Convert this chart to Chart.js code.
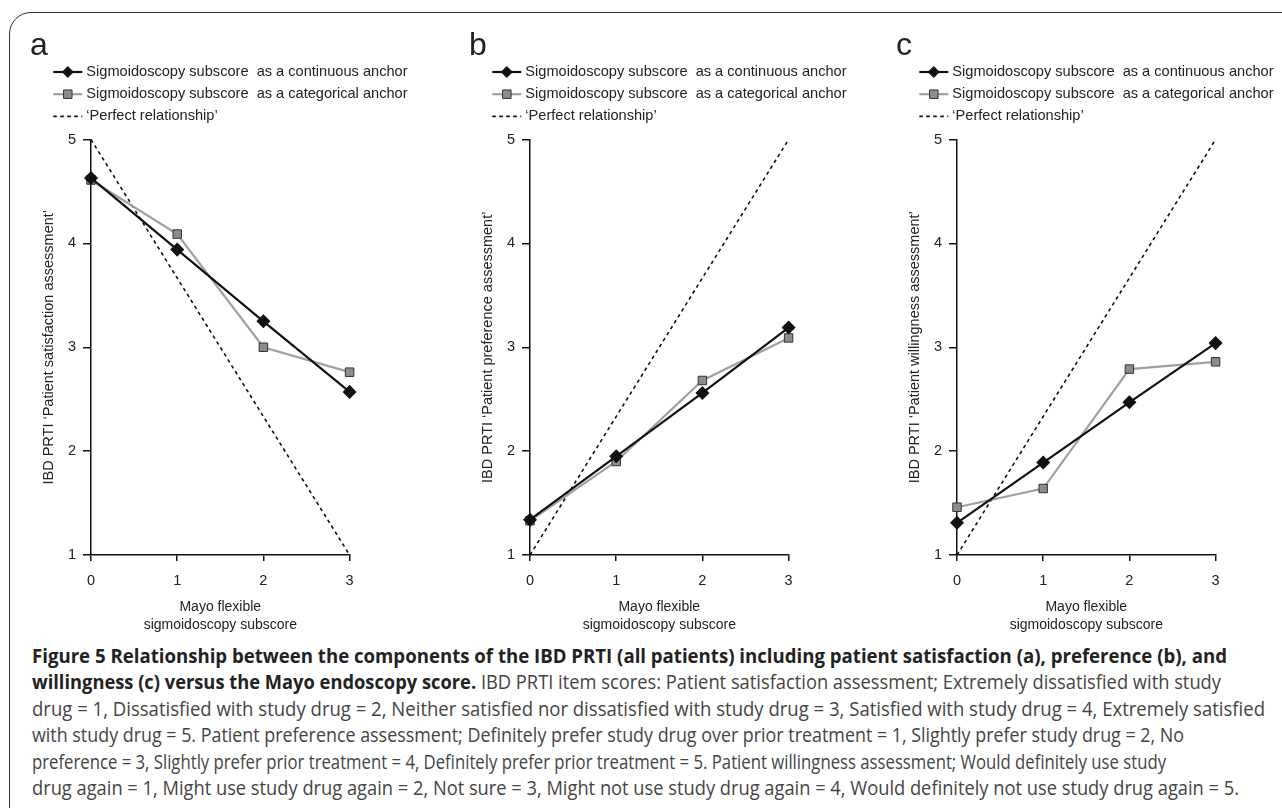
<!DOCTYPE html>
<html>
<head>
<meta charset="utf-8">
<script src="https://cdn.jsdelivr.net/npm/chart.js@4.4.1/dist/chart.umd.min.js"></script>
<style>
    body { margin: 0; background: #fff; width: 1282px; height: 808px; overflow: hidden; position: relative; }
    #frame { position: absolute; left: 9px; top: 12px; width: 1320px; height: 830px; border: 1.5px solid #333; border-radius: 22px; box-sizing: border-box; }
    .panel { position: absolute; top: 0; }
    #caption { position: absolute; left: 32px; top: 643px; font-family: "Open Sans", sans-serif; font-size: 20px; line-height: 26.4px; color: #444; white-space: nowrap; }
    #caption b { color: #222; font-weight: 700; }
    #caption span { display: inline-block; transform-origin: 0 0; }
</style>
</head>
<body>
<div id="frame"></div>
<div class="panel" style="left:20.7px"><canvas id="chartA" width="390" height="640"></canvas></div>
<div class="panel" style="left:460px"><canvas id="chartB" width="390" height="640"></canvas></div>
<div class="panel" style="left:886.7px"><canvas id="chartC" width="390" height="640"></canvas></div>
<div id="caption">
    <div><span><b>Figure 5 Relationship between the components of the IBD PRTI (all patients) including patient satisfaction (a), preference (b), and</b></span></div>
    <div><span><b>willingness (c) versus the Mayo endoscopy score.</b> IBD PRTI item scores: Patient satisfaction assessment; Extremely dissatisfied with study</span></div>
    <div><span>drug = 1, Dissatisfied with study drug = 2, Neither satisfied nor dissatisfied with study drug = 3, Satisfied with study drug = 4, Extremely satisfied</span></div>
    <div><span>with study drug = 5. Patient preference assessment; Definitely prefer study drug over prior treatment = 1, Slightly prefer study drug = 2, No</span></div>
    <div><span>preference = 3, Slightly prefer prior treatment = 4, Definitely prefer prior treatment = 5. Patient willingness assessment; Would definitely use study</span></div>
    <div><span>drug again = 1, Might use study drug again = 2, Not sure = 3, Might not use study drug again = 4, Would definitely not use study drug again = 5.</span></div>
</div>
<script>
// Mayo flexible sigmoidoscopy subscore (x)
const xValues = [0, 1, 2, 3];

// (a) satisfaction
const continuousA = [4.63, 3.94, 3.25, 2.57];
const categoricalA = [4.61, 4.09, 3.00, 2.76];
// (b) preference
const continuousB = [1.34, 1.95, 2.56, 3.19];
const categoricalB = [1.33, 1.90, 2.68, 3.09];
// (c) willingness
const continuousC = [1.31, 1.89, 2.47, 3.04];
const categoricalC = [1.46, 1.64, 2.79, 2.86];

// 'Perfect relationship' line end points
const perfectX = [0, 3];
const perfectA = [5, 1];
const perfectB = [1, 5];
const perfectC = [1, 5];

const panelLetters = ['a', 'b', 'c'];
const yTitles = [
    'IBD PRTI \u2018Patient satisfaction assessment\u2019',
    'IBD PRTI \u2018Patient preference assessment\u2019',
    'IBD PRTI \u2018Patient willingness assessment\u2019'
];
const xTitle = ['Mayo flexible', 'sigmoidoscopy subscore'];
const legendLabels = [
    'Sigmoidoscopy subscore  as a continuous anchor',
    'Sigmoidoscopy subscore  as a categorical anchor',
    '\u2018Perfect relationship\u2019'
];

const FONT = '"Liberation Sans", Arial, sans-serif';
const TEXT = '#222';

function toPoints(xs, ys) {
    return xs.map((x, i) => ({ x: x, y: ys[i] }));
}

function drawMarker(ctx, style, x, y, r, fill, stroke) {
    ctx.beginPath();
    if (style === 'rectRot') {
        ctx.moveTo(x - r, y); ctx.lineTo(x, y - r); ctx.lineTo(x + r, y); ctx.lineTo(x, y + r);
    } else {
        const s = r * Math.SQRT1_2;
        ctx.rect(x - s, y - s, 2 * s, 2 * s);
    }
    ctx.closePath();
    ctx.fillStyle = fill;
    ctx.fill();
    ctx.lineWidth = 1;
    ctx.strokeStyle = stroke;
    ctx.stroke();
}

// panel letter + legend drawn above the plot
const panelLegend = {
    id: 'panelLegend',
    afterDraw(chart, args, opts) {
        const ctx = chart.ctx;
        const ax = chart.chartArea.left;
        ctx.save();
        ctx.fillStyle = TEXT;
        ctx.font = '32px ' + FONT;
        ctx.textBaseline = 'alphabetic';
        ctx.fillText(opts.letter, ax - 61, 55);

        ctx.font = '14.6px ' + FONT;
        ctx.textBaseline = 'middle';
        chart.data.datasets.forEach((ds, i) => {
            const y = 72 + i * 22.2;
            const x0 = ax - 37.7, x1 = ax - 8.7;
            ctx.save();
            ctx.strokeStyle = ds.borderColor;
            ctx.lineWidth = ds.borderWidth;
            ctx.setLineDash(ds.borderDash || []);
            ctx.beginPath();
            ctx.moveTo(x0, y);
            ctx.lineTo(x1, y);
            ctx.stroke();
            ctx.restore();
            if (ds.pointRadius > 0) {
                drawMarker(ctx, ds.pointStyle, (x0 + x1) / 2, y, ds.pointRadius, ds.pointBackgroundColor, ds.pointBorderColor);
            }
            ctx.fillStyle = TEXT;
            ctx.fillText(ds.label, ax - 4.7, y);
        });
        ctx.restore();
    }
};

function makeChart(id, letter, yTitle, continuous, categorical, perfect) {
    return new Chart(document.getElementById(id), {
        type: 'line',
        data: {
            datasets: [
                {
                    label: legendLabels[0],
                    data: toPoints(xValues, continuous),
                    borderColor: '#111',
                    borderWidth: 2.2,
                    pointStyle: 'rectRot',
                    pointRadius: 5.5,
                    pointBackgroundColor: '#111',
                    pointBorderColor: '#111',
                    clip: false
                },
                {
                    label: legendLabels[1],
                    data: toPoints(xValues, categorical),
                    borderColor: '#a0a0a0',
                    borderWidth: 2.2,
                    pointStyle: 'rect',
                    pointRadius: 6,
                    pointBackgroundColor: '#8c8c8c',
                    pointBorderColor: '#333',
                    pointBorderWidth: 1,
                    clip: false
                },
                {
                    label: legendLabels[2],
                    data: toPoints(perfectX, perfect),
                    borderColor: '#111',
                    borderWidth: 1.6,
                    borderDash: [3.5, 3.5],
                    pointRadius: 0,
                    clip: false
                }
            ]
        },
        options: {
            responsive: false,
            animation: false,
            devicePixelRatio: 1,
            layout: { padding: { left: 15, top: 139.5, right: 61.4, bottom: 0 } },
            plugins: {
                legend: { display: false },
                tooltip: { enabled: false },
                panelLegend: { letter: letter }
            },
            scales: {
                x: {
                    type: 'linear',
                    min: 0,
                    max: 3,
                    afterFit: s => { s.height = 85; },
                    ticks: { stepSize: 1, padding: 11, color: TEXT, font: { family: FONT, size: 14.5 } },
                    grid: { drawOnChartArea: false, drawTicks: true, tickLength: 6, color: '#111', lineWidth: 1.5 },
                    border: { display: true, color: '#111', width: 1.5 },
                    title: { display: true, text: xTitle, color: TEXT, font: { family: FONT, size: 14, lineHeight: 1.3 }, padding: { top: 0, bottom: 6 } }
                },
                y: {
                    min: 1,
                    max: 5,
                    afterFit: s => { s.width = 55; },
                    ticks: { stepSize: 1, padding: 7, color: TEXT, font: { family: FONT, size: 14.5 } },
                    grid: { drawOnChartArea: false, drawTicks: true, tickLength: 8, color: '#111', lineWidth: 1.5 },
                    border: { display: true, color: '#111', width: 1.5 },
                    title: { display: true, text: yTitle, color: TEXT, font: { family: FONT, size: 14.5 }, padding: { top: 4, bottom: 0 } }
                }
            }
        },
        plugins: [panelLegend]
    });
}

makeChart('chartA', panelLetters[0], yTitles[0], continuousA, categoricalA, perfectA);
makeChart('chartB', panelLetters[1], yTitles[1], continuousB, categoricalB, perfectB);
makeChart('chartC', panelLetters[2], yTitles[2], continuousC, categoricalC, perfectC);

// squeeze each caption line to the width it has in the original
const captionRightEdges = [1227, 1221, 1265, 1184, 1166, 1239];
function fitCaption() {
    const cap = document.getElementById('caption');
    const left = cap.getBoundingClientRect().left;
    cap.querySelectorAll('span').forEach((sp, i) => {
        const w = sp.getBoundingClientRect().width;
        sp.style.transform = 'scaleX(' + ((captionRightEdges[i] - left) / w) + ')';
    });
}
if (document.fonts && document.fonts.ready) {
    document.fonts.ready.then(fitCaption);
} else {
    fitCaption();
}
</script>
</body>
</html>
